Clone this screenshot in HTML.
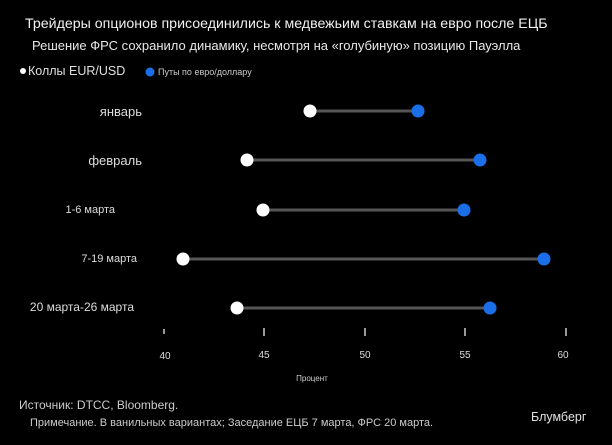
<!DOCTYPE html>
<html><head><meta charset="utf-8"><style>
body{margin:0;background:#000;}
svg{display:block;font-family:"Liberation Sans","Noto Sans CJK SC",sans-serif;}
</style></head><body>
<svg width="612" height="445" viewBox="0 0 612 445">
<rect width="612" height="445" fill="#000"/>
<text x="25" y="28" fill="#f0f0f0" font-size="14.2">Трейдеры опционов присоединились к медвежьим ставкам на евро после ЕЦБ</text>
<text x="32" y="50" fill="#e8e8e8" font-size="13">Решение ФРС сохранило динамику, несмотря на «голубиную» позицию Пауэлла</text>
<circle cx="23" cy="71" r="3" fill="#fff"/>
<text x="28" y="75" fill="#e0e0e0" font-size="12.5">Коллы EUR/USD</text>
<circle cx="150" cy="72" r="4.5" fill="#1a6fe8"/>
<text x="158" y="75" fill="#ccc" font-size="9">Путы по евро/доллару</text>
<g font-size="13" fill="#ddd" text-anchor="end">
<text x="142" y="116">январь</text>
<text x="142" y="165">февраль</text>
<text x="115" y="213" font-size="11">1-6 марта</text>
<text x="137" y="262" font-size="11">7-19 марта</text>
<text x="134" y="311" font-size="12">20 марта-26 марта</text>
</g>
<g stroke="#555" stroke-width="3">
<line x1="310" y1="111" x2="418" y2="111"/>
<line x1="247" y1="160" x2="480" y2="160"/>
<line x1="263" y1="210" x2="464" y2="210"/>
<line x1="183" y1="259" x2="544" y2="259"/>
<line x1="237" y1="308" x2="490" y2="308"/>
</g>
<g fill="#fff">
<circle cx="310" cy="111" r="6.5"/><circle cx="247" cy="160" r="6.5"/><circle cx="263" cy="210" r="6.5"/><circle cx="183" cy="259" r="6.5"/><circle cx="237" cy="308" r="6.5"/>
</g>
<g fill="#1a6fe8">
<circle cx="418" cy="111" r="6.5"/><circle cx="480" cy="160" r="6.5"/><circle cx="464" cy="210" r="6.5"/><circle cx="544" cy="259" r="6.5"/><circle cx="490" cy="308" r="6.5"/>
</g>
<g stroke="#ccc" stroke-width="1.5">
<line x1="164" y1="329" x2="164" y2="334"/>
<line x1="264" y1="328" x2="264" y2="336"/>
<line x1="365" y1="328" x2="365" y2="336"/>
<line x1="465" y1="328" x2="465" y2="336"/>
<line x1="566" y1="328" x2="566" y2="336"/>
</g>
<g fill="#ddd" font-size="10" text-anchor="middle">
<text x="165" y="359">40</text><text x="264" y="358">45</text><text x="365" y="358">50</text><text x="465" y="358">55</text><text x="563" y="358">60</text>
</g>
<text x="312" y="381" fill="#ccc" font-size="8" text-anchor="middle">Процент</text>
<text x="19" y="409" fill="#ccc" font-size="12">Источник: DTCC, Bloomberg.</text>
<text x="30" y="426" fill="#ccc" font-size="11">Примечание. В ванильных вариантах; Заседание ЕЦБ 7 марта, ФРС 20 марта.</text>
<text x="531" y="421" fill="#e0e0e0" font-size="12.5">Блумберг</text>
</svg>
</body></html>
